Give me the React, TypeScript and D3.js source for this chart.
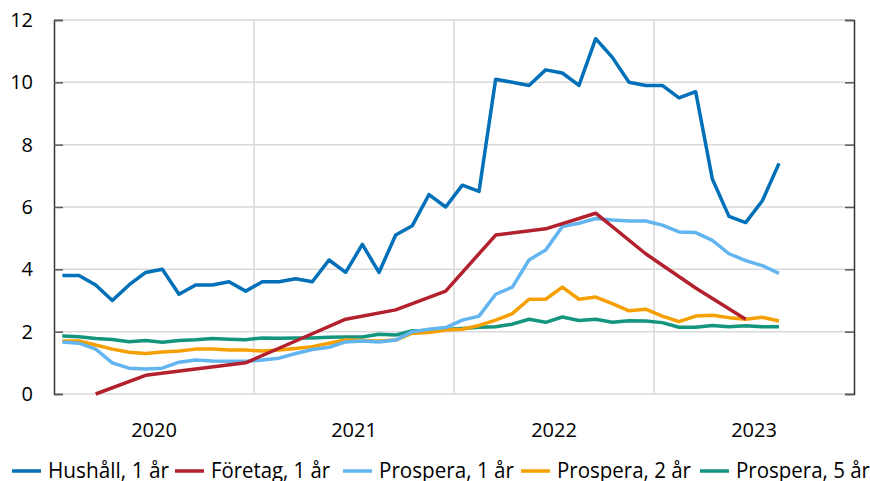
import * as React from 'react';
import { useRef, useEffect } from 'react';
import * as d3 from 'd3';

// months Jan 2020 .. Dec 2023 (x axis categories)
const years = [2020, 2021, 2022, 2023];
const months = years.flatMap((y) => d3.range(1, 13).map((m) => `${y}-${String(m).padStart(2, '0')}`));
const yTicks = [0, 2, 4, 6, 8, 10, 12];

// monthly values from Jan 2020 to Aug 2023
const hushall = [
  3.8, 3.8, 3.5, 3.0, 3.5, 3.9, 4.0, 3.2, 3.5, 3.5, 3.6, 3.3,
  3.6, 3.6, 3.7, 3.6, 4.3, 3.9, 4.8, 3.9, 5.1, 5.4, 6.4, 6.0,
  6.7, 6.5, 10.1, 10.0, 9.9, 10.4, 10.3, 9.9, 11.4, 10.8, 10.0, 9.9,
  9.9, 9.5, 9.7, 6.9, 5.7, 5.5, 6.2, 7.4,
];
// quarterly survey, null where no observation
const foretag = [
  null, null, 0.0, null, null, 0.6, null, null, 0.8, null, null, 1.0,
  null, null, 1.7, null, null, 2.4, null, null, 2.7, null, null, 3.3,
  null, null, 5.1, null, null, 5.3, null, null, 5.8, null, null, 4.5,
  null, null, 3.4, null, null, 2.4,
];
const prospera1 = [
  1.67, 1.63, 1.44, 1.0, 0.83, 0.8, 0.83, 1.02, 1.09, 1.06, 1.05, 1.05,
  1.09, 1.15, 1.3, 1.43, 1.5, 1.67, 1.7, 1.67, 1.73, 2.0, 2.08, 2.13,
  2.37, 2.5, 3.2, 3.43, 4.3, 4.62, 5.37, 5.48, 5.63, 5.58, 5.55, 5.55,
  5.42, 5.2, 5.18, 4.93, 4.5, 4.28, 4.12, 3.87,
];
const prospera2 = [
  1.7, 1.7, 1.57, 1.44, 1.34, 1.3, 1.35, 1.38, 1.44, 1.44, 1.41, 1.41,
  1.38, 1.41, 1.46, 1.52, 1.63, 1.73, 1.72, 1.7, 1.73, 1.95, 1.97, 2.05,
  2.08, 2.2, 2.37, 2.58, 3.04, 3.04, 3.43, 3.04, 3.11, 2.9, 2.67, 2.72,
  2.5, 2.32, 2.5, 2.53, 2.45, 2.4, 2.46, 2.34,
];
const prospera5 = [
  1.86, 1.84, 1.78, 1.75, 1.68, 1.72, 1.66, 1.72, 1.74, 1.78, 1.76, 1.74,
  1.8, 1.79, 1.8, 1.8, 1.82, 1.83, 1.83, 1.92, 1.89, 2.03, 2.03, 2.07,
  2.1, 2.14, 2.16, 2.24, 2.4, 2.3, 2.47, 2.36, 2.4, 2.3, 2.35, 2.34,
  2.29, 2.14, 2.14, 2.2, 2.16, 2.19, 2.16, 2.16,
];

const seriesNames = ['Hushåll, 1 år', 'Företag, 1 år', 'Prospera, 1 år', 'Prospera, 2 år', 'Prospera, 5 år'];
const seriesValues = [hushall, foretag, prospera1, prospera2, prospera5];
const seriesColors = ['#0070B8', '#B3202E', '#62B5EF', '#F5A000', '#14967E'];

export default function App() {
  const svgRef = useRef<SVGSVGElement>(null);
  const width = 870;
  const height = 481;
  const margin = { top: 20, right: 16, bottom: 87, left: 54 };
  const font = "'Open Sans', sans-serif";

  useEffect(() => {
    if (!svgRef.current) return;
    const svg = d3.select(svgRef.current);
    svg.selectAll('*').remove();

    const x = d3.scaleBand<string>()
      .domain(months)
      .range([margin.left, width - margin.right])
      .paddingInner(0);
    const y = d3.scaleLinear()
      .domain([0, 12])
      .range([height - margin.bottom, margin.top]);
    const bw = x.bandwidth();
    const x0 = margin.left;
    const x1 = width - margin.right;

    // gridlines
    svg.append('g')
      .selectAll('line')
      .data(yTicks)
      .join('line')
      .attr('x1', x0).attr('x2', x1)
      .attr('y1', (d) => y(d)).attr('y2', (d) => y(d))
      .attr('stroke', '#d9d9d9')
      .attr('stroke-width', 1.5);
    svg.append('g')
      .selectAll('line')
      .data(years.slice(1))
      .join('line')
      .attr('x1', (d) => x(`${d}-01`)!).attr('x2', (d) => x(`${d}-01`)!)
      .attr('y1', y(0)).attr('y2', y(12))
      .attr('stroke', '#d9d9d9')
      .attr('stroke-width', 1.5);

    // left + right axes with inward ticks
    svg.append('g')
      .attr('transform', `translate(${x0},0)`)
      .call(d3.axisRight(y).tickValues(yTicks).tickSize(9).tickFormat(() => ''))
      .call((g) => g.select('.domain').attr('stroke', '#333').attr('stroke-width', 1.5))
      .call((g) => g.selectAll('.tick line').attr('stroke', '#595959').attr('stroke-width', 1.5));
    svg.append('g')
      .attr('transform', `translate(${x1},0)`)
      .call(d3.axisLeft(y).tickValues(yTicks).tickSize(9).tickFormat(() => ''))
      .call((g) => g.select('.domain').attr('stroke', '#333').attr('stroke-width', 1.5))
      .call((g) => g.selectAll('.tick line').attr('stroke', '#595959').attr('stroke-width', 1.5));

    // y labels
    svg.append('g')
      .selectAll('text')
      .data(yTicks)
      .join('text')
      .attr('x', 33)
      .attr('y', (d) => y(d))
      .attr('dy', '0.35em')
      .attr('text-anchor', 'end')
      .attr('font-family', font)
      .attr('font-size', 20)
      .attr('fill', '#000')
      .text((d) => d);

    // year labels
    svg.append('g')
      .selectAll('text')
      .data(years)
      .join('text')
      .attr('x', (d) => x(`${d}-01`)! + bw * 6)
      .attr('y', 437)
      .attr('text-anchor', 'middle')
      .attr('font-family', font)
      .attr('font-size', 20)
      .attr('fill', '#000')
      .text((d) => d);

    // lines
    const line = d3.line<{ m: string; v: number }>()
      .x((d) => x(d.m)! + bw / 2)
      .y((d) => y(d.v));

    const order = [4, 3, 2, 1, 0];
    order.forEach((i) => {
      const pts = seriesValues[i]
        .map((v, k) => ({ m: months[k], v: v as number }))
        .filter((d) => d.v !== null && d.v !== undefined);
      svg.append('path')
        .datum(pts)
        .attr('fill', 'none')
        .attr('stroke', seriesColors[i])
        .attr('stroke-width', 3.5)
        .attr('stroke-linejoin', 'round')
        .attr('d', line);
    });

    // legend (narrow font in the original, so text is fitted to its width)
    const legendX = [12, 175, 343, 521, 700];
    const legendTextW = [121, 119, 135, 134, 134];
    const legend = svg.append('g');
    seriesNames.forEach((name, i) => {
      legend.append('line')
        .attr('x1', legendX[i]).attr('x2', legendX[i] + 29)
        .attr('y1', 471).attr('y2', 471)
        .attr('stroke', seriesColors[i])
        .attr('stroke-width', 3.5);
      legend.append('text')
        .attr('x', legendX[i] + 36)
        .attr('y', 478)
        .attr('font-family', font)
        .attr('font-size', 21)
        .attr('textLength', legendTextW[i])
        .attr('lengthAdjust', 'spacingAndGlyphs')
        .attr('fill', '#000')
        .text(name);
    });
  }, []);

  return (
    <div style={{ position: 'absolute', left: 0, top: 0 }}>
      <svg ref={svgRef} width={width} height={height} style={{ display: 'block' }} />
    </div>
  );
}
